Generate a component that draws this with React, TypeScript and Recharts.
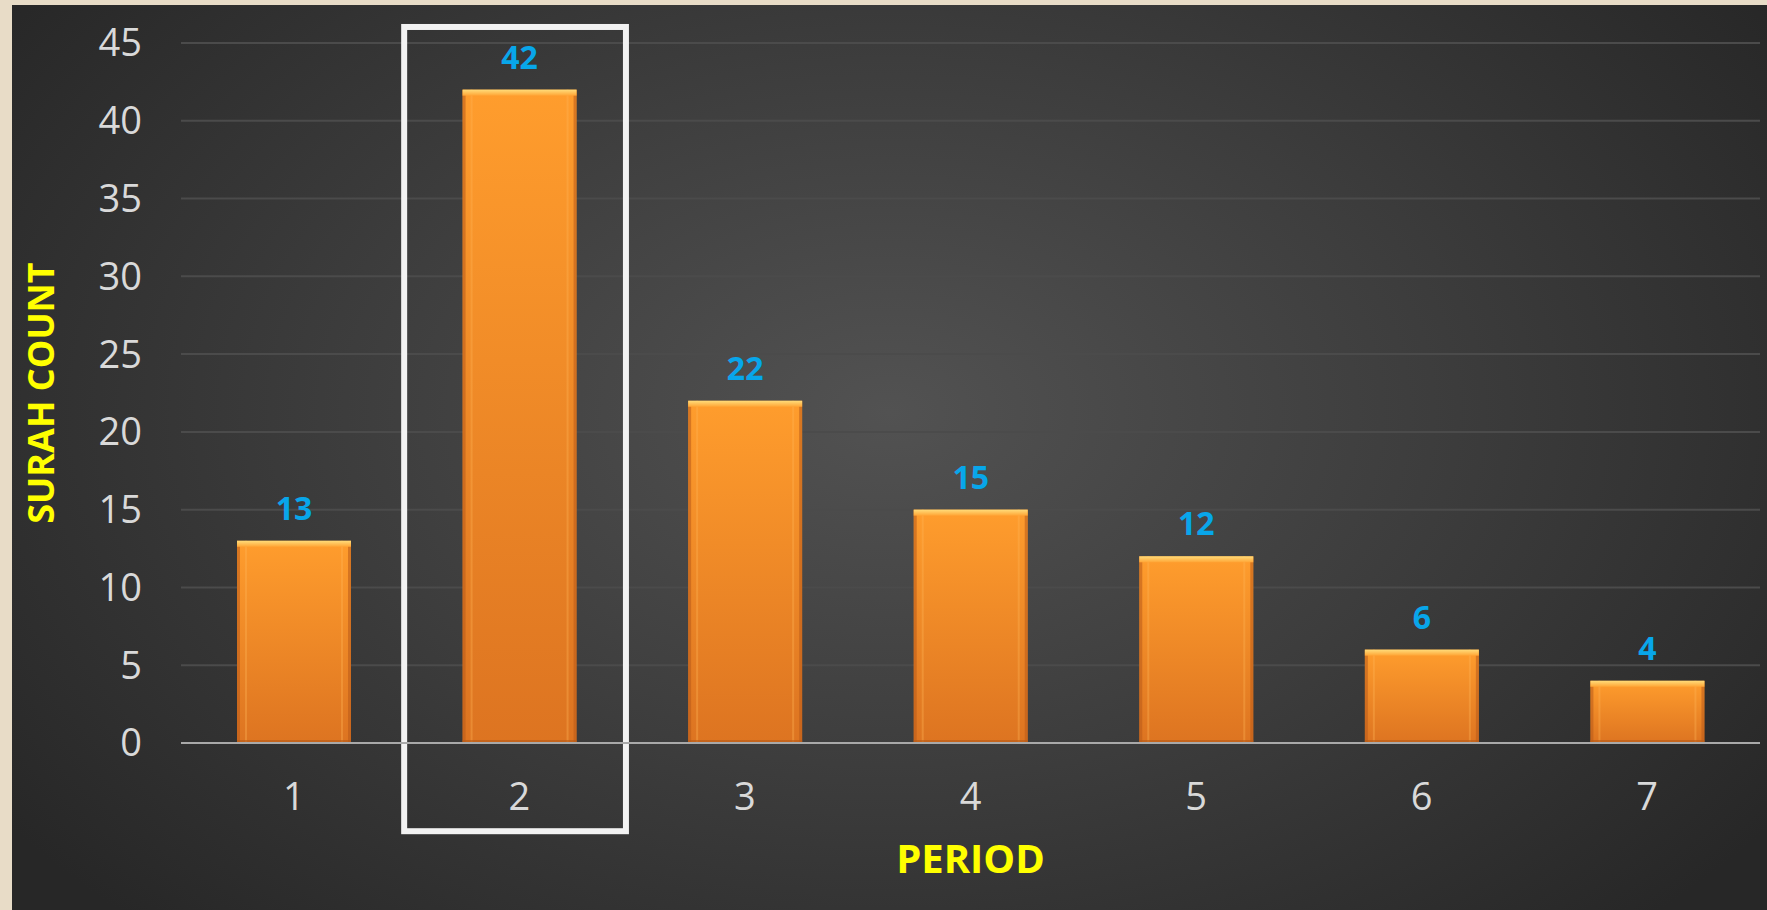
import {
    BarChart,
    Bar,
    XAxis,
    YAxis,
    CartesianGrid,
    LabelList,
    Label,
    ReferenceArea
} from 'recharts';

const periods = ['1', '2', '3', '4', '5', '6', '7'];
const surahCounts = [13, 42, 22, 15, 12, 6, 4];
const yTicks = [0, 5, 10, 15, 20, 25, 30, 35, 40, 45];
const highlightedPeriod = '2';

const data = periods.map((p, i) => ({ period: p, count: surahCounts[i] }));

const font = '"Open Sans", "Noto Sans", sans-serif';

// bar with the glossy bevel look from the original
function BevelBar(props: any) {
    const { x, y, width, height } = props;
    if (!height || height <= 0) return null;
    return (
        <g>
            <rect x={x} y={y} width={width} height={height} fill="url(#barFill)" />
            <rect x={x} y={y} width={3} height={height} fill="#b8591a" opacity={0.55} />
            <rect x={x + width - 3} y={y} width={3} height={height} fill="#b8591a" opacity={0.55} />
            <rect x={x + 8} y={y} width={2} height={height} fill="#ffb455" opacity={0.35} />
            <rect x={x + width - 10} y={y} width={2} height={height} fill="#ffb455" opacity={0.35} />
            <rect x={x} y={y} width={width} height={6} fill="url(#barTop)" />
            <rect x={x} y={y + height - 3} width={width} height={3} fill="#b55a18" opacity={0.6} />
        </g>
    );
}

// the white frame sits a little left of the band in the original
function Frame(props: any) {
    const { x, y, width, height } = props;
    return <rect x={x - 2.4} y={y} width={width - 3.8} height={height} fill="none" stroke="#f2f2f2" strokeWidth={6} />;
}

function YTitle(props: any) {
    const { viewBox } = props;
    const cx = viewBox.x + 28;
    const cy = viewBox.y + viewBox.height / 2;
    return (
        <text x={cx} y={cy} transform={`rotate(-90 ${cx} ${cy})`} textAnchor="middle"
            dominantBaseline="central" fill="#ffff00" fontSize={36} fontWeight={700} fontFamily={font}>
            SURAH COUNT
        </text>
    );
}

export default function App() {
    return (
        <div style={{ position: 'absolute', left: 0, top: 0, width: 1767, height: 910, background: '#e8dcc7', overflow: 'hidden' }}>
            <div style={{
                position: 'absolute', left: 12, top: 5, right: 0, bottom: 0,
                background: 'radial-gradient(ellipse 62% 78% at 50% 45%, #525252 0%, #3d3d3d 50%, #272727 100%)'
            }} />
            <div style={{ position: 'absolute', left: 0, top: 0 }}>
                <BarChart width={1767} height={910} data={data}
                    margin={{ top: 43, right: 7, left: 12, bottom: 0 }}>
                    <defs>
                        <linearGradient id="barFill" x1="0" y1="0" x2="0" y2="1">
                            <stop offset="0%" stopColor="#ff9d2d" />
                            <stop offset="100%" stopColor="#dd7421" />
                        </linearGradient>
                        <linearGradient id="barTop" x1="0" y1="0" x2="0" y2="1">
                            <stop offset="0%" stopColor="#ffdc7a" />
                            <stop offset="100%" stopColor="#ffa535" />
                        </linearGradient>
                    </defs>
                    <CartesianGrid vertical={false} stroke="#4b4b4b" strokeWidth={2} />
                    <XAxis dataKey="period" height={167} tickLine={false} tickSize={0} tickMargin={40}
                        axisLine={{ stroke: '#a9a9a9', strokeWidth: 2 }}
                        tick={{ fill: '#d9d9d9', fontSize: 38, fontFamily: font }}>
                        <Label value="PERIOD" position="insideBottom" offset={37} fill="#ffff00"
                            fontSize={40} fontWeight={700} fontFamily={font} />
                    </XAxis>
                    <YAxis domain={[0, 45]} ticks={yTicks} width={169} axisLine={false} tickLine={false}
                        tickSize={0} tickMargin={39}
                        tick={{ fill: '#d9d9d9', fontSize: 38, fontFamily: font }}>
                        <Label content={<YTitle />} />
                    </YAxis>
                    <Bar dataKey="count" barSize={114} shape={<BevelBar />} isAnimationActive={false}>
                        <LabelList dataKey="count" position="top" offset={21} fill="#08a6ea"
                            fontSize={32} fontWeight={700} fontFamily={font} />
                    </Bar>
                    <ReferenceArea x1={highlightedPeriod} x2={highlightedPeriod} y1={-5.67} y2={46.03}
                        ifOverflow="visible" shape={<Frame />} />
                </BarChart>
            </div>
        </div>
    );
}
